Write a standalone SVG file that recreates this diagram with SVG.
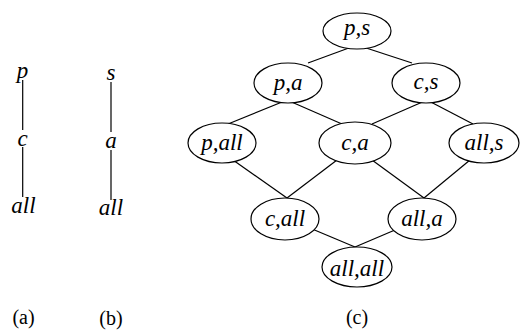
<svg xmlns="http://www.w3.org/2000/svg" width="521" height="331" viewBox="0 0 521 331">
<style>
  .bg { fill: #ffffff; }
  ellipse { fill: #ffffff; stroke: #000000; stroke-width: 1.2; }
  line { stroke: #000000; stroke-width: 1.2; }
  .lbl { font-family: "Liberation Serif", "Times New Roman", serif; font-style: italic; font-size: 23px; fill: #000000; text-anchor: middle; }
  .cap { font-family: "Liberation Serif", "Times New Roman", serif; font-size: 20px; fill: #000000; text-anchor: middle; }
</style>
<rect class="bg" x="0" y="0" width="521" height="331"/>

<g id="connectors">
  <!-- tree (a) -->
  <line x1="22.7" y1="80" x2="22.7" y2="130"/>
  <line x1="22.7" y1="147" x2="22.7" y2="197"/>
  <!-- tree (b) -->
  <line x1="111" y1="82" x2="111" y2="132"/>
  <line x1="111" y1="150" x2="111" y2="200"/>
  <!-- lattice (c) -->
  <line x1="357" y1="45" x2="308" y2="63"/>
  <line x1="357" y1="45" x2="412" y2="63"/>
  <line x1="287" y1="100" x2="228" y2="124"/>
  <line x1="287" y1="100" x2="342" y2="124"/>
  <line x1="427" y1="100" x2="372" y2="124"/>
  <line x1="427" y1="100" x2="473" y2="124"/>
  <line x1="233" y1="160" x2="287" y2="198"/>
  <line x1="337" y1="160" x2="287" y2="198"/>
  <line x1="372" y1="160" x2="424" y2="198"/>
  <line x1="470" y1="160" x2="424" y2="198"/>
  <line x1="305" y1="226" x2="355" y2="247"/>
  <line x1="402" y1="227" x2="355" y2="247"/>
</g>

<g id="a-p"><text class="lbl" x="22.5" y="78">p</text></g>
<g id="a-c"><text class="lbl" x="22.5" y="146">c</text></g>
<g id="a-all"><text class="lbl" x="23.5" y="213">all</text></g>

<g id="b-s"><text class="lbl" x="111" y="80">s</text></g>
<g id="b-a"><text class="lbl" x="111" y="148">a</text></g>
<g id="b-all"><text class="lbl" x="111" y="215">all</text></g>

<g id="n-ps"><ellipse cx="357" cy="31" rx="34" ry="18"/><text class="lbl" x="357" y="35">p,s</text></g>
<g id="n-pa"><ellipse cx="288" cy="83" rx="34" ry="20"/><text class="lbl" x="288" y="89.5">p,a</text></g>
<g id="n-cs"><ellipse cx="426" cy="83" rx="34" ry="20"/><text class="lbl" x="426" y="89">c,s</text></g>
<g id="n-pall"><ellipse cx="222" cy="143" rx="34" ry="20"/><text class="lbl" x="222" y="150">p,all</text></g>
<g id="n-ca"><ellipse cx="355" cy="143" rx="36" ry="21"/><text class="lbl" x="355" y="149.5">c,a</text></g>
<g id="n-alls"><ellipse cx="484" cy="143" rx="35" ry="20"/><text class="lbl" x="484" y="150">all,s</text></g>
<g id="n-call"><ellipse cx="285" cy="219" rx="34" ry="21"/><text class="lbl" x="285" y="226">c,all</text></g>
<g id="n-alla"><ellipse cx="422" cy="219" rx="34" ry="21"/><text class="lbl" x="422" y="226">all,a</text></g>
<g id="n-allall"><ellipse cx="357" cy="267" rx="35" ry="20"/><text class="lbl" x="357" y="276">all,all</text></g>

<g id="captions">
  <text class="cap" x="23.5" y="324">(a)</text>
  <text class="cap" x="111" y="325">(b)</text>
  <text class="cap" x="357" y="324">(c)</text>
</g>
</svg>
